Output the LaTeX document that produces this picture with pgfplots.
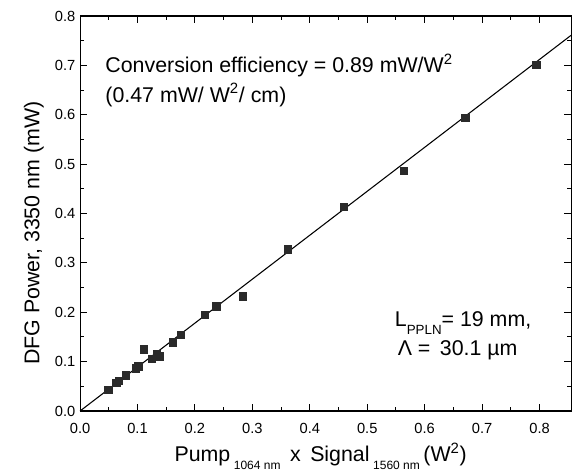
\documentclass[border=0pt]{standalone}
\usepackage{fontspec}
\setmainfont{Liberation Sans}
\usepackage{pgfplots}
\pgfplotsset{compat=1.18}
\definecolor{DataInk}{HTML}{2A2A2A}
\begin{document}
\begin{tikzpicture}
\begin{axis}[
  scale only axis,
  width=368pt, height=296pt,
  xmin=0, xmax=0.855,
  ymin=0, ymax=0.8,
  xtick={0,0.1,0.2,0.3,0.4,0.5,0.6,0.7,0.8},
  ytick={0,0.1,0.2,0.3,0.4,0.5,0.6,0.7,0.8},
  minor tick num=1,
  tick align=inside,
  major tick length=5pt,
  minor tick length=3pt,
  axis line style={line width=0.8pt},
  every tick/.style={line width=0.7pt,black},
  tick label style={font=\fontsize{11}{12}\selectfont},
  /pgf/number format/assume math mode=true,
  /pgf/number format/fixed,
  /pgf/number format/fixed zerofill,
  /pgf/number format/precision=1,
  xticklabel style={yshift=-6pt},
  xlabel={Pump\,\raisebox{-0.7ex}{\fontsize{9}{10}\selectfont 1064 nm}\ \,x\ \,Signal\,\raisebox{-0.7ex}{\fontsize{9}{10}\selectfont 1560 nm}\,(W\textsuperscript{2})},
  ylabel={DFG Power, 3350 nm (mW)},
  label style={font=\fontsize{16}{18}\selectfont},
  xlabel style={at={(axis description cs:0.49,-0.115)},anchor=center},
  ylabel style={at={(axis description cs:-0.094,0.45)},anchor=center},
  clip=false
]
\path (axis description cs:-0.163,-0.162) rectangle (axis description cs:1.016,1.0405);
\addplot[black,line width=0.8pt] coordinates {(0,0) (0.855,0.761)};
\addplot[only marks,mark=square*,mark size=2.8pt,draw=DataInk,fill=DataInk]
  coordinates {
  (0.049,0.043) (0.063,0.057) (0.067,0.061) (0.080,0.072) (0.097,0.087)
  (0.101,0.091) (0.111,0.125) (0.125,0.106) (0.134,0.116) (0.139,0.111)
  (0.161,0.139) (0.175,0.154) (0.217,0.195) (0.237,0.212) (0.283,0.232)
  (0.362,0.328) (0.459,0.414) (0.564,0.487) (0.671,0.594) (0.794,0.701)};
\node[anchor=west,font=\fontsize{16}{18}\selectfont] at (axis cs:0.036,0.70)
  {Conversion efficiency = 0.89 mW/W\textsuperscript{2}};
\node[anchor=west,font=\fontsize{16}{18}\selectfont] at (axis cs:0.036,0.64)
  {(0.47 mW/ W\textsuperscript{2}/ cm)};
\node[anchor=west,font=\fontsize{16}{18}\selectfont] at (axis cs:0.54,0.178)
  {L\raisebox{-0.7ex}{\fontsize{10}{11}\selectfont PPLN}= 19 mm,};
\node[anchor=west,font=\fontsize{16}{18}\selectfont] at (axis cs:0.545,0.123)
  {Λ =\ \,30.1 µm};
\end{axis}
\end{tikzpicture}
\end{document}
